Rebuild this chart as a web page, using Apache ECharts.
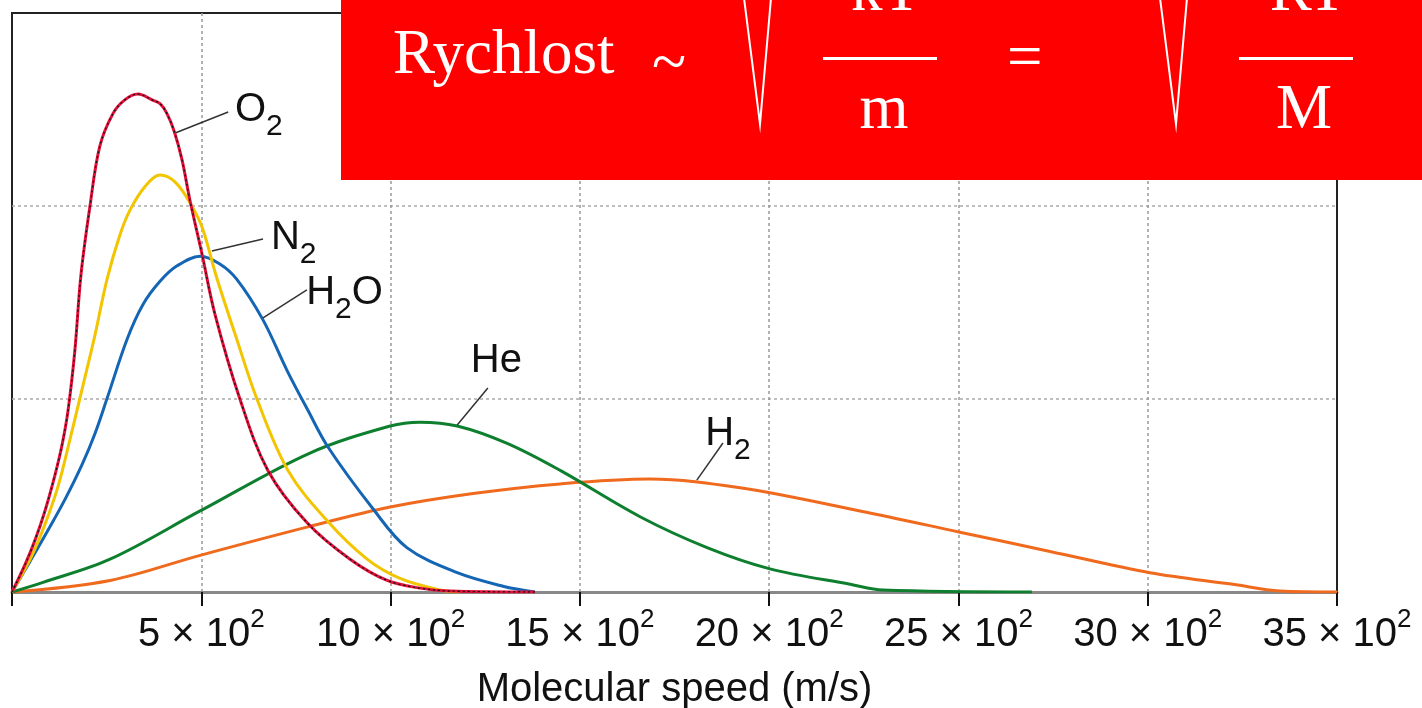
<!DOCTYPE html>
<html>
<head>
<meta charset="utf-8">
<title>Molecular speed distribution</title>
<script src="https://cdn.jsdelivr.net/npm/echarts@6/dist/echarts.min.js"></script>
<style>
  html, body { margin: 0; padding: 0; background: #fff; }
  #chart { width: 1422px; height: 708px; }
</style>
</head>
<body>
<div id="chart"></div>
<script>
// [speed m/s, relative probability]
const o2 = [[0, 0], [34, 0.14], [61, 0.27], [87, 0.42], [114, 0.61], [132, 0.76], [148, 0.94], [166, 1.25],
  [182, 1.64], [206, 2.0], [232, 2.31], [267, 2.48], [298, 2.55], [333, 2.58], [370, 2.55], [391, 2.53],
  [409, 2.48], [428, 2.39], [449, 2.24], [470, 2.03], [502, 1.75], [536, 1.44], [602, 1.0], [676, 0.63],
  [779, 0.36], [893, 0.17], [991, 0.06], [1078, 0.02], [1157, 0.005], [1381, 0]];
const n2 = [[0, 0], [48, 0.17], [87, 0.35], [122, 0.55], [153, 0.79], [185, 1.05], [219, 1.33], [251, 1.62],
  [285, 1.85], [312, 1.98], [351, 2.1], [391, 2.16], [433, 2.12], [475, 2.0], [504, 1.88], [539, 1.64],
  [592, 1.32], [647, 1.0], [729, 0.63], [832, 0.37], [938, 0.17], [1025, 0.07], [1131, 0.01], [1183, 0]];
const h2o = [[0, 0], [48, 0.16], [95, 0.32], [140, 0.48], [185, 0.66], [219, 0.82], [254, 1.02], [304, 1.31],
  [346, 1.49], [391, 1.61], [436, 1.69], [497, 1.74], [549, 1.7], [594, 1.62], [663, 1.41], [726, 1.15],
  [782, 0.94], [835, 0.75], [954, 0.43], [1043, 0.23], [1176, 0.1], [1297, 0.03], [1381, 0]];
const he = [[0, 0], [82, 0.05], [259, 0.17], [497, 0.42], [787, 0.72], [999, 0.86], [1078, 0.88],
  [1176, 0.86], [1308, 0.77], [1448, 0.63], [1659, 0.39], [1836, 0.23], [2002, 0.12], [2214, 0.04],
  [2301, 0.01], [2694, 0]];
const h2 = [[0, 0], [259, 0.06], [497, 0.19], [787, 0.34], [999, 0.44], [1218, 0.51], [1448, 0.56],
  [1685, 0.585], [1923, 0.54], [2240, 0.42], [2504, 0.31], [2742, 0.21], [3006, 0.1], [3225, 0.04],
  [3349, 0.005], [3500, 0]];

const speedTicks = [0, 500, 1000, 1500, 2000, 2500, 3000, 3500];
const tickMantissa = ['', '5', '10', '15', '20', '25', '30', '35'];

const sansFont = '"Liberation Sans", Arial, Helvetica, sans-serif';
const serifFont = '"Liberation Serif", "Times New Roman", serif';

const labelRich = {
  m: { fontSize: 40, fontFamily: sansFont, lineHeight: 40, verticalAlign: 'top', color: '#111' },
  s: { fontSize: 30, fontFamily: sansFont, lineHeight: 30, padding: [22, 0, 0, 0], verticalAlign: 'top', color: '#111' }
};

// label text + where it sits + its leader line, all in data units
function gasCurve(name, data, color, text, at, leader, z) {
  return {
    type: 'line',
    name: name,
    data: data,
    z: z,
    smooth: 0.35,
    symbol: 'none',
    lineStyle: { color: color, width: 3 },
    markPoint: {
      symbol: 'circle',
      symbolSize: 0,
      silent: true,
      label: { show: true, position: 'right', distance: 0, formatter: text, rich: labelRich },
      data: [{ coord: at }]
    },
    markLine: {
      silent: true,
      symbol: ['none', 'none'],
      label: { show: false },
      lineStyle: { color: '#333', width: 1.5, type: 'solid' },
      data: [[{ coord: leader[0] }, { coord: leader[1] }]]
    }
  };
}

const chart = echarts.init(document.getElementById('chart'));

const option = {
  animation: false,
  backgroundColor: '#fff',
  grid: {
    left: 12, top: 13, width: 1325, height: 579,
    outerBoundsMode: 'none',
    show: true, borderColor: '#222', borderWidth: 2
  },
  xAxis: {
    type: 'value',
    min: 0,
    max: 3500,
    interval: 500,
    name: 'Molecular speed (m/s)',
    nameLocation: 'middle',
    nameGap: 78,
    nameTextStyle: { fontSize: 40, fontFamily: sansFont, color: '#111' },
    axisLine: { lineStyle: { color: '#888', width: 3 } },
    axisTick: { length: 14, lineStyle: { color: '#111', width: 2 } },
    splitLine: { show: true, showMinLine: false, showMaxLine: false, lineStyle: { color: '#999', width: 1.5, type: [3, 3] } },
    axisLabel: {
      margin: 15,
      showMinLabel: true,
      showMaxLabel: true,
      formatter: function (v) {
        const i = speedTicks.indexOf(v);
        if (i <= 0) return '';
        return '{a|' + tickMantissa[i] + ' × 10}{b|2}';
      },
      rich: {
        a: { fontSize: 40, fontFamily: sansFont, lineHeight: 40, padding: [8, 0, 0, 0], verticalAlign: 'top', color: '#111' },
        b: { fontSize: 26, fontFamily: sansFont, lineHeight: 26, verticalAlign: 'top', color: '#111' }
      }
    }
  },
  yAxis: {
    type: 'value',
    min: 0,
    max: 3,
    interval: 1,
    axisLine: { show: false },
    axisTick: { show: false },
    axisLabel: { show: false },
    splitLine: { showMinLine: false, showMaxLine: false, lineStyle: { color: '#aaa', width: 1.5, type: [3, 3] } }
  },
  series: [
    gasCurve('H2', h2, '#f06a1e', '{m|H}{s|2}', [1831, 0.819], [[1809, 0.58], [1878, 0.772]], 2),
    gasCurve('He', he, '#0e7f2e', '{m|He}', [1212, 1.197], [[1176, 0.865], [1257, 1.057]], 3),
    gasCurve('H2O', h2o, '#1565b5', '{m|H}{s|2}{m|O}', [777, 1.549], [[663, 1.42], [779, 1.565]], 4),
    gasCurve('N2', n2, '#f2c500', '{m|N}{s|2}', [684, 1.834], [[528, 1.767], [663, 1.829]], 5),
    gasCurve('O2', o2, '#e0103a', '{m|O}{s|2}', [589, 2.497], [[431, 2.378], [571, 2.487]], 6),
    {
      type: 'line',
      name: 'O2 dash',
      data: o2,
      z: 7,
      smooth: 0.35,
      symbol: 'none',
      lineStyle: { color: '#111', width: 1.3, type: [2, 3] }
    }
  ],
  graphic: [
    { type: 'rect', z: 100, shape: { x: 341, y: 0, width: 1081, height: 180 }, style: { fill: '#ff0000' } },
    { type: 'text', z: 101, x: 393, y: 56, style: { text: 'Rychlost', font: '63px ' + serifFont, fill: '#fff', align: 'left', verticalAlign: 'middle' } },
    { type: 'text', z: 101, x: 652, y: 66, style: { text: '~', font: '63px ' + serifFont, fill: '#fff', align: 'left', verticalAlign: 'middle' } },
    { type: 'polyline', z: 101, shape: { points: [[744, -2], [760, 124], [771, -2]] }, style: { stroke: '#fff', lineWidth: 2, fill: null } },
    { type: 'text', z: 101, x: 886, y: -7, style: { text: 'kT', font: '63px ' + serifFont, fill: '#fff', align: 'center', verticalAlign: 'middle' } },
    { type: 'rect', z: 101, shape: { x: 823, y: 57, width: 114, height: 3 }, style: { fill: '#fff' } },
    { type: 'text', z: 101, x: 884, y: 111, style: { text: 'm', font: '63px ' + serifFont, fill: '#fff', align: 'center', verticalAlign: 'middle' } },
    { type: 'text', z: 101, x: 1007, y: 60, style: { text: '=', font: '63px ' + serifFont, fill: '#fff', align: 'left', verticalAlign: 'middle' } },
    { type: 'polyline', z: 101, shape: { points: [[1160, -2], [1176, 124], [1187, -2]] }, style: { stroke: '#fff', lineWidth: 2, fill: null } },
    { type: 'text', z: 101, x: 1308, y: -7, style: { text: 'RT', font: '63px ' + serifFont, fill: '#fff', align: 'center', verticalAlign: 'middle' } },
    { type: 'rect', z: 101, shape: { x: 1239, y: 57, width: 114, height: 3 }, style: { fill: '#fff' } },
    { type: 'text', z: 101, x: 1304, y: 111, style: { text: 'M', font: '63px ' + serifFont, fill: '#fff', align: 'center', verticalAlign: 'middle' } }
  ]
};

chart.setOption(option);
</script>
</body>
</html>
